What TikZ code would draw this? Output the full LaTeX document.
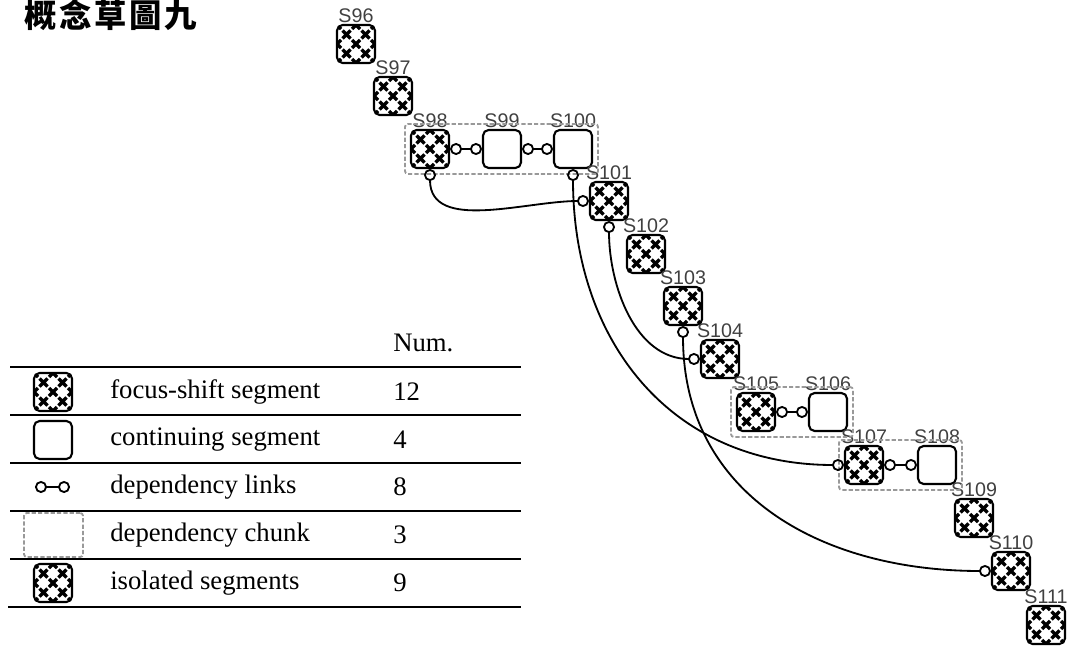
\documentclass[tikz,border=0pt]{standalone}
\usepackage{fontspec}
\setmainfont{Liberation Serif}
\setsansfont{Liberation Sans}
\newfontfamily\cjk[LetterSpace=8]{Noto Sans CJK TC}
\usetikzlibrary{arrows.meta,fit}

\begin{document}
\begin{tikzpicture}[x=0.025cm, y=0.025cm,
    seg/.style={draw, line width=1.5pt, rounded corners=4pt, minimum size=0.95cm, inner sep=0pt},
    cont/.style={seg},
    focus/.style={seg, path picture={
        \foreach \u/\v in {0/0, -9.5/-9.5, 9.5/-9.5, -9.5/9.5, 9.5/9.5, -19/0, 19/0, 0/-19, 0/19, -19/-19, 19/19, -19/19, 19/-19}
          \draw[line width=2.4pt] ([shift={(\u,\v)}]path picture bounding box.center)
            +(-4,-4) -- +(4,4) +(-4,4) -- +(4,-4);
    }},
    lbl/.style={font=\sffamily\fontsize{14}{15}\selectfont, text=black!75, inner sep=1pt, above},
    chunk/.style={draw=black!40, line width=1.3pt, dash pattern=on 3pt off 1.5pt, rounded corners=2pt, inner sep=3.5pt},
    lnk/.style={line width=1.3pt, {Circle[open, length=8.5pt, width=8.5pt]}-{Circle[open, length=8.5pt, width=8.5pt]}},
    rule/.style={line width=1.4pt},
    txt/.style={font=\fontsize{19}{22}\selectfont, anchor=west, inner sep=0pt},
]
\useasboundingbox (0,0) rectangle (1070,-648);

\node[font=\cjk\bfseries\fontsize{23}{26}\selectfont] (title) at (111,-15) {概念草圖九};

% segments
\node[focus] (s96)  at ( 356,  -44) {};
\node[focus] (s97)  at ( 393,  -96) {};
\node[focus] (s98)  at ( 430, -149) {};
\node[cont]  (s99)  at ( 502, -149) {};
\node[cont]  (s100) at ( 573, -149) {};
\node[focus] (s101) at ( 609, -201) {};
\node[focus] (s102) at ( 646, -254) {};
\node[focus] (s103) at ( 683, -306) {};
\node[focus] (s104) at ( 720, -359) {};
\node[focus] (s105) at ( 756, -412) {};
\node[cont]  (s106) at ( 828, -412) {};
\node[focus] (s107) at ( 864, -465) {};
\node[cont]  (s108) at ( 937, -465) {};
\node[focus] (s109) at ( 974, -518) {};
\node[focus] (s110) at (1011, -571) {};
\node[focus] (s111) at (1046, -625) {};

\foreach \n in {96,...,111}
  \node[lbl] at (s\n.north) {S\n};

% chunks
\node[chunk, fit=(s98)(s100)] (chunka) {};
\node[chunk, fit=(s105)(s106)] (chunkb) {};
\node[chunk, fit=(s107)(s108)] (chunkc) {};

% dependency links
\draw[lnk] (s98.east) -- (s99.west);
\draw[lnk] (s99.east) -- (s100.west);
\draw[lnk] (s105.east) -- (s106.west);
\draw[lnk] (s107.east) -- (s108.west);
\draw[lnk] (s98.south) to[out=-90, in=180] (s101.west);
\draw[lnk] (s101.south) to[out=-90, in=180] (s104.west);
\draw[lnk] (s100.south) to[out=-90, in=180, looseness=1.1] (s107.west);
\draw[lnk] (s103.south) to[out=-90, in=180, looseness=1.1] (s110.west);

% legend
\node[txt] (num) at (393,-343) {Num.};
\draw[rule] (10,-367) -- (521,-367);
\draw[rule] (10,-415) -- (521,-415);
\draw[rule] (10,-463) -- (521,-463);
\draw[rule] (10,-511) -- (521,-511);
\draw[rule] (10,-559) -- (521,-559);
\draw[rule] (8,-607) -- (521,-607);

\node[focus] (lgfocus) at (53,-392) {};
\node[cont]  (lgcont)  at (53,-440) {};
\coordinate (lga) at (35,-487);
\coordinate (lgb) at (70,-487);
\draw[lnk] (lga) -- (lgb);
\node[chunk, minimum width=1.475cm, minimum height=1.1cm, inner sep=0pt] (lgchunk) at (53.5,-535) {};
\node[focus] (lgiso)   at (53,-583) {};

\node[txt] (t1) at (110,-392) {focus-shift segment};
\node[txt] (t2) at (110,-440) {continuing segment};
\node[txt] (t3) at (110,-487) {dependency links};
\node[txt] (t4) at (110,-535) {dependency chunk};
\node[txt] (t5) at (110,-583) {isolated segments};
\node[txt] (n1) at (393,-392) {12};
\node[txt] (n2) at (393,-440) {4};
\node[txt] (n3) at (393,-487) {8};
\node[txt] (n4) at (393,-535) {3};
\node[txt] (n5) at (393,-583) {9};
\end{tikzpicture}
\end{document}
